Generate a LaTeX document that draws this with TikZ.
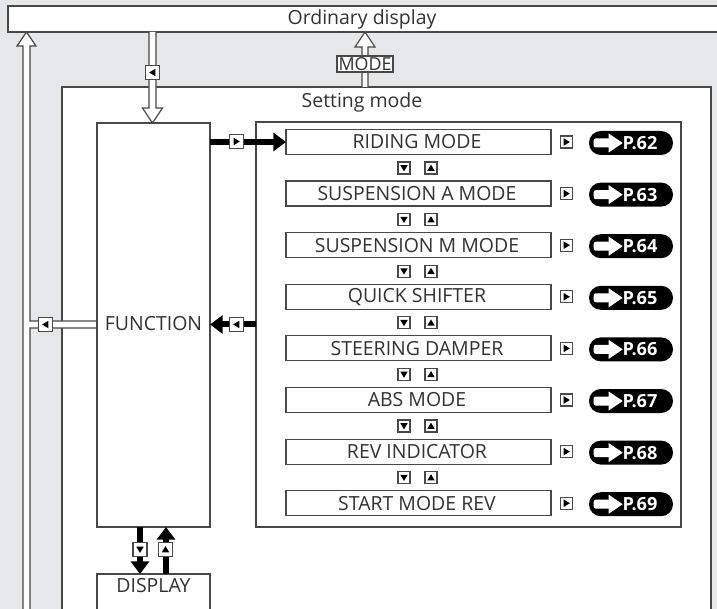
\documentclass[tikz,border=0pt]{standalone}
\usepackage{fontspec}
\setmainfont{Open Sans}
\usetikzlibrary{arrows.meta,calc}
\definecolor{bg}{RGB}{230,231,232}
\definecolor{lc}{RGB}{72,72,72}
\definecolor{tc}{RGB}{50,50,50}
\begin{document}
\begin{tikzpicture}[x=0.75pt,y=-0.75pt,
  every node/.style={text=tc},
  box/.style={draw=lc, line width=0.9pt, fill=white, inner sep=0pt, outer sep=0pt},
  lbl/.style={font=\fontsize{14.6}{16}\selectfont, inner sep=0pt},
  hol/.style={draw=lc, line width=0.9pt, fill=white, line join=miter},
  blk/.style={line width=4.5pt, black, -{Triangle[length=9.5pt,width=13.5pt]}},
  icon/.style={draw=lc, fill=white, line width=0.8pt, minimum size=#1, inner sep=0pt, outer sep=0pt},
  icon/.default=9pt,
  tR/.style={path picture={\fill[black] ([shift={(-2.1pt,2.8pt)}]path picture bounding box.center) -- ++(4.6pt,-2.8pt) -- ++(-4.6pt,-2.8pt) -- cycle;}},
  tL/.style={path picture={\fill[black] ([shift={(2.1pt,2.8pt)}]path picture bounding box.center) -- ++(-4.6pt,-2.8pt) -- ++(4.6pt,-2.8pt) -- cycle;}},
  tD/.style={path picture={\fill[black] ([shift={(-2.8pt,2.1pt)}]path picture bounding box.center) -- ++(5.6pt,0pt) -- ++(-2.8pt,-4.6pt) -- cycle;}},
  tU/.style={path picture={\fill[black] ([shift={(-2.8pt,-2.1pt)}]path picture bounding box.center) -- ++(5.6pt,0pt) -- ++(-2.8pt,4.6pt) -- cycle;}},
  pill/.style={fill=black, rounded corners=8.9pt, minimum width=0.75*84pt, minimum height=0.75*24pt, inner sep=0pt},
  pilltxt/.style={text=white, font=\fontsize{13.6}{14}\selectfont\bfseries, inner sep=0pt, anchor=west},
]
\useasboundingbox (0,0) rectangle (717,609);
\clip (0,0) rectangle (717,609);
\fill[bg] (0,0) rectangle (717,609);

% Ordinary display
\node[box, minimum width=0.75*712pt, minimum height=0.75*26pt] (ord) at (364,19) {};
\node[lbl] (ordt) at (362,19) {Ordinary display};

% Setting mode frame (open at the bottom)
\filldraw[draw=lc, line width=0.9pt, fill=white] (62,615) -- (62,87) -- (711,87) -- (711,615);
\node[lbl] (sett) at (362,102) {Setting mode};

% hollow return arrow on the left, joined by FUNCTION exit
\filldraw[hol] (23,615) -- (23,46) -- (17,46) -- (26.5,32) -- (36,46) -- (30,46)
  -- (30,321) -- (97,321) -- (97,328) -- (30,328) -- (30,615) -- cycle;
% hollow arrow Ordinary display -> FUNCTION
\filldraw[hol] (149,32) -- (149,108) -- (142.5,108) -- (152.5,123) -- (162.5,108) -- (156,108) -- (156,32);
% hollow arrow MODE -> Ordinary display
\filldraw[hol] (362,87) -- (362,47) -- (355,47) -- (365,32) -- (375,47) -- (368,47) -- (368,87);
\node[box, minimum width=0.75*56pt, minimum height=0.75*16pt, font=\fontsize{13.4}{14}\selectfont] (mode) at (365,64) {MODE};

% FUNCTION and DISPLAY
\node[box, minimum width=0.75*113pt, minimum height=0.75*404pt] (func) at (153.5,325) {};
\node[lbl] (funct) at (153.5,323.5) {FUNCTION};
\filldraw[draw=lc, line width=0.9pt, fill=white] (97,615) -- (97,574) coordinate (dtl) -- (210,574) -- (210,615);
\node[lbl] (disp) at (153.5,586) {DISPLAY};

% list box
\node[box, minimum width=0.75*425pt, minimum height=0.75*405pt] (list) at (468.5,324.5) {};

% items
\foreach \t/\p [count=\i from 0] in {RIDING MODE/62, SUSPENSION A MODE/63, SUSPENSION M MODE/64, QUICK SHIFTER/65, STEERING DAMPER/66, ABS MODE/67, REV INDICATOR/68, START MODE REV/69}{
  \pgfmathsetmacro\yy{142+51.6*\i}
  \node[box, minimum width=0.75*265pt, minimum height=0.75*25pt] (it\i) at (418.5,\yy) {};
  \node[lbl] (itt\i) at (417,\yy) {\t};
  \node[icon, tR] (ir\i) at (566.5,\yy) {};
  \node[pill] (p\i) at (631,\yy+1) {};
  \fill[white, rounded corners=1.5pt] ($(p\i.west)+(5,-4.5)$) rectangle ($(p\i.west)+(23,4.5)$);
  \fill[white] ($(p\i.west)+(20,-9.5)$) -- ($(p\i.west)+(34,0)$) -- ($(p\i.west)+(20,9.5)$) -- cycle;
  \node[pilltxt] (pt\i) at ($(p\i.west)+(33.5,0)$) {P.\p};
  \ifnum\i<7
    \node[icon, tD] (id\i) at (404,\yy+26) {};
    \node[icon, tU] (iu\i) at (431,\yy+26) {};
  \fi
}

% black connectors
\draw[blk] (func.east |- it0.west) -- (it0.west);
\node[icon=11pt, tR] (a1) at (236.5,141.5) {};
\draw[blk] (list.west) -- (func.east |- list.west);
\node[icon=11pt, tL] (a2) at (236.5,324.5) {};
\coordinate (dn) at (140,0);
\coordinate (up) at (166,0);
\draw[blk] (func.south -| dn) -- (dtl -| dn);
\draw[blk] (dtl -| up) -- (func.south -| up);
\node[icon=10.5pt, tD] (a3) at (140,549.5) {};
\node[icon=10.5pt, tU] (a4) at (165.5,549.5) {};

% icons on hollow arrows
\node[icon=11pt, tL] (a5) at (152.5,72.5) {};
\node[icon=11pt, tL] (a6) at (45.5,324.5) {};
\end{tikzpicture}
\end{document}
